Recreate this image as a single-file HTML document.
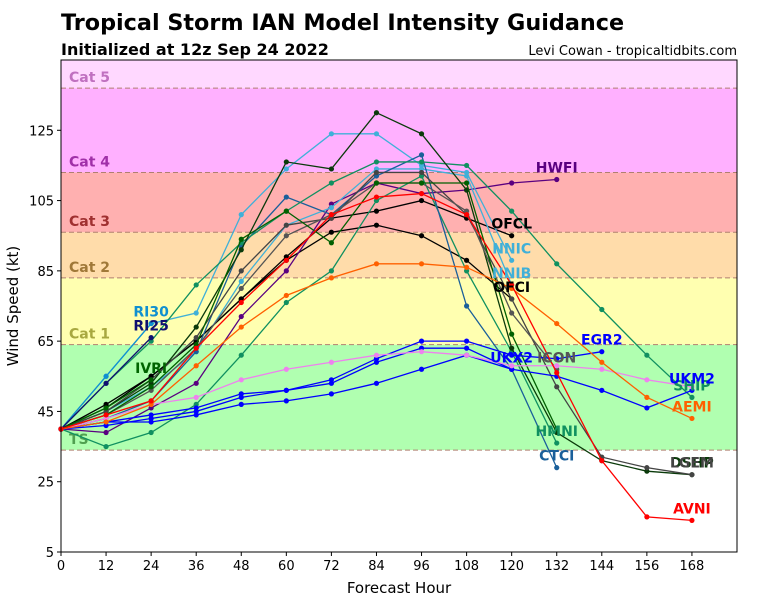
<!DOCTYPE html>
<html><head><meta charset="utf-8"><style>
body{margin:0;background:#fff;font-family:"Liberation Sans",sans-serif}
svg text{font-family:"DejaVu Sans","Liberation Sans",sans-serif}
</style></head><body>
<svg id="c" width="768" height="600">
<text x="61" y="30" font-size="22.3" font-weight="bold">Tropical Storm IAN Model Intensity Guidance</text>
<text x="61" y="55" font-size="16" font-weight="bold">Initialized at 12z Sep 24 2022</text>
<text x="737" y="55" font-size="13" text-anchor="end">Levi Cowan - tropicaltidbits.com</text>
<g id="plot"></g>
<text x="399" y="593" font-size="15" text-anchor="middle">Forecast Hour</text>
<text x="18" y="306" font-size="15" text-anchor="middle" transform="rotate(-90 18 306)">Wind Speed (kt)</text>
</svg>
<script>
const hours=[0,12,24,36,48,60,72,84,96,108,120,132,144,156,168];
const xTicks=[0,12,24,36,48,60,72,84,96,108,120,132,144,156,168];
const yTicks=[5,25,45,65,85,105,125];
const bandNames=["TS","Cat 1","Cat 2","Cat 3","Cat 4","Cat 5"];
const bandLow=[34,64,83,96,113,137];
const bandHigh=[64,83,96,113,137,145];
const models=["OFCL","OFCI","HWFI","NNIC","NNIB","HMNI","CTCI","SHIP","DSHP","LGEM","ICON","XGRN","RI30","RI25","IVRI","EGR2","UKX2","UKM2","TABM","AEMI","AVNI"];
const vOFCL=[40,47,55,65,77,89,100,102,105,100,95];
const vOFCI=[40,46,55,65,77,88,96,98,95,88,77];
const vHWFI=[40,39,46,53,72,85,104,110,107,108,110,111];
const vNNIC=[40,55,70,73,101,114,124,124,115,113,88];
const vNNIB=[40,45,52,62,82,98,103,114,114,112,81];
const vHMNI=[40,35,39,47,61,76,85,105,112,85,62,36];
const vCTCI=[40,43,48,62,92,106,101,112,118,75,57,29];
const vSHIP=[40,53,65,81,93,102,110,116,116,115,102,87,74,61,49];
const vDSHP=[40,45,53,69,91,116,114,130,124,108,63,39,31,28,27];
const vLGEM=[40,45,54,66,85,98,100,113,113,101,77,52,32,29,27];
const vICON=[40,44,51,63,80,95,101,110,110,102,73,57];
const vXGRN=[40,44,52,64,94,102,93,110,110,110,67,40];
const vRI30=[40,55,70];
const vRI25=[40,53,66];
const vIVRI=[40,46,54];
const vEGR2=[40,42,44,46,50,51,54,60,65,65,61,60,62];
const vUKX2=[40,41,43,45,49,51,53,59,63,63,57];
const vUKM2=[40,42,42,44,47,48,50,53,57,61,57,55,51,46,51];
const vTABM=[40,43,47,49,54,57,59,61,62,61,58,58,57,54,52];
const vAEMI=[40,42,47,58,69,78,83,87,87,86,80,70,59,49,43];
const vAVNI=[40,44,48,63,76,88,101,106,107,101,81,56,31,15,14];
const series=[vOFCL,vOFCI,vHWFI,vNNIC,vNNIB,vHMNI,vCTCI,vSHIP,vDSHP,vLGEM,vICON,vXGRN,vRI30,vRI25,vIVRI,vEGR2,vUKX2,vUKM2,vTABM,vAEMI,vAVNI];
const colors=["#000","#000","#5a0080","#40b0d8","#40b0d8","#109060","#1a5f9a","#109060","#0a3a0a","#444","#555","#006000","#1090d0","#101070","#006400","#0000ff","#0000ff","#0000ff","#ee82ee","#ff6000","#ff0000"];
const showLabel=[1,1,1,1,1,1,1,1,1,1,1,0,1,1,1,1,1,1,0,1,1];
const bandFill=["#b0ffb0","#ffffb0","#ffdcaa","#ffb0b0","#ffb0ff","#ffd8ff"];
const bandText=["#50a050","#a8a840","#a07838","#a03030","#a030a8","#c070c0"];
const L=61,R=737,T=60,B=552,X0=0,X1=180,Y0=5,Y1=145;
const xs=h=>L+(h-X0)/(X1-X0)*(R-L);
const ys=v=>B-(v-Y0)/(Y1-Y0)*(B-T);
const NS="http://www.w3.org/2000/svg";
const g=document.getElementById('plot');
function mk(t,a,p){const e=document.createElementNS(NS,t);for(const k in a)e.setAttribute(k,a[k]);(p||g).appendChild(e);return e;}
bandNames.forEach((n,i)=>{
 const r=mk('rect',{x:L,y:ys(bandHigh[i]),width:R-L,height:ys(bandLow[i])-ys(bandHigh[i]),fill:bandFill[i]});
 
 
 const d=mk('line',{x1:L,x2:R,y1:ys(bandLow[i]),y2:ys(bandLow[i]),stroke:"#b08070",'stroke-dasharray':"5,3",'stroke-width':1});
 
 
 const t=mk('text',{x:69,y:ys(bandLow[i])-6,'font-size':14,'font-weight':'bold',fill:bandText[i]});
 t.textContent=n;
 
 
});
series.forEach((s,i)=>{
 const pts=s.map((v,j)=>xs(hours[j])+','+ys(v)).join(' ');
 const pl=mk('polyline',{points:pts,fill:'none',stroke:colors[i],'stroke-width':1.3});
 
 
 s.forEach((v,j)=>{const c=mk('circle',{cx:xs(hours[j]),cy:ys(v),r:2.6,fill:colors[i]});
  
  });
});
series.forEach((s,i)=>{
 if(!showLabel[i])return;
 const n=s.length-1;
 const t=mk('text',{x:xs(hours[n]),y:ys(s[n])-7,'font-size':14,'font-weight':'bold','text-anchor':'middle',fill:colors[i]});
 t.textContent=models[i];
 
 
});
const fr=mk('rect',{x:L,y:T,width:R-L,height:B-T,fill:'none',stroke:'#000','stroke-width':1});


xTicks.forEach(h=>{
 mk('line',{x1:xs(h),x2:xs(h),y1:B,y2:B+4,stroke:'#000'});
 const t=mk('text',{x:xs(h),y:B+18,'font-size':13,'text-anchor':'middle'});
 t.textContent=h;
 
 
});
yTicks.forEach(v=>{
 mk('line',{x1:L-4,x2:L,y1:ys(v),y2:ys(v),stroke:'#000'});
 const t=mk('text',{x:L-7,y:ys(v)+5,'font-size':13,'text-anchor':'end'});
 t.textContent=v;
 
 
});
</script>
</body></html>
